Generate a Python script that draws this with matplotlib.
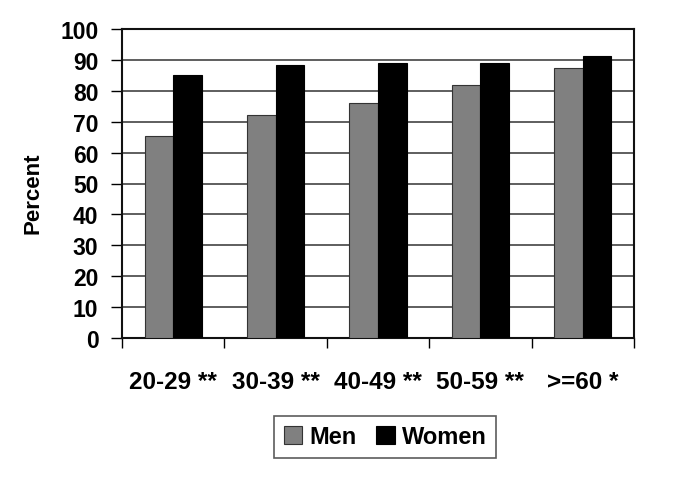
import matplotlib
matplotlib.use("Agg")
import matplotlib.pyplot as plt
import numpy as np

plt.rcParams['font.family'] = ['Liberation Sans', 'DejaVu Sans']
plt.rcParams['font.weight'] = 'bold'

categories = ["20-29 **", "30-39 **", "40-49 **", "50-59 **", ">=60 *"]
men = [65.3, 72.3, 76.0, 82.0, 87.5]
women = [85.0, 88.5, 89.0, 89.0, 91.3]
yticks = list(range(0, 101, 10))

fig = plt.figure(figsize=(6.85, 4.89), dpi=100)
ax = fig.add_axes([122/685, 1-339/489, (634-122)/685, (339-30)/489])

x = np.arange(len(categories))
w = 0.28
ax.bar(x - w/2, men, w, color="#808080", edgecolor="#333333", linewidth=0.8, label="Men", zorder=3)
ax.bar(x + w/2, women, w, color="#000000", edgecolor="#000000", linewidth=0.8, label="Women", zorder=3)

ax.set_xlim(-0.5, len(categories) - 0.5)
ax.set_ylim(0, 100)
ax.set_yticks(yticks)
ax.set_yticklabels([str(v) for v in yticks], fontsize=16.5, fontweight='bold')
ax.set_xticks(np.arange(-0.5, len(categories), 1.0))
ax.set_xticklabels([])
ax.set_xticks(x, minor=True)
ax.set_xticklabels(categories, minor=True, fontsize=17.5, fontweight='bold')
ax.tick_params(axis='x', which='minor', length=0, pad=23)
ax.tick_params(axis='x', which='major', length=7, width=1, direction='out')
ax.tick_params(axis='y', length=8, width=1, direction='out', pad=9)

ax.yaxis.grid(True, color="#333333", linewidth=1.1, zorder=0)
ax.set_axisbelow(True)
for s in ax.spines.values():
    s.set_linewidth(1.5)
    s.set_color("#111111")

fig.text(33/685, 1-193/489, "Percent", rotation=90, fontsize=16, fontweight='bold',
         ha='center', va='center')

leg = fig.legend(loc='center', bbox_to_anchor=(385/685, 1-438/489), ncol=2,
                 frameon=True, fancybox=False, edgecolor="#333333",
                 prop={'size': 17, 'weight': 'bold'},
                 handlelength=0.8, handleheight=0.8, handletextpad=0.3,
                 columnspacing=0.8, borderpad=0.4)
leg.get_frame().set_linewidth(1.2)

fig.savefig("out.png", dpi=100)
